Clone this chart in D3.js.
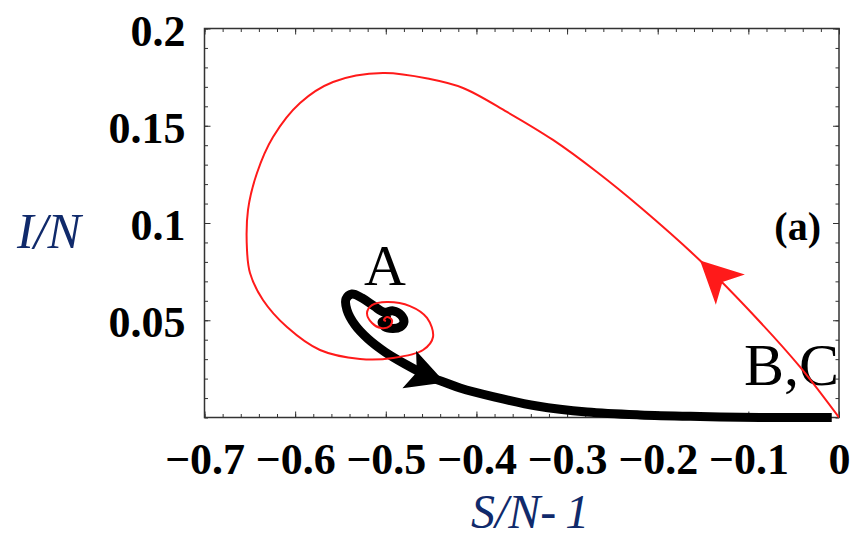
<!DOCTYPE html>
<html>
<head>
<meta charset="utf-8">
<script src="https://cdn.jsdelivr.net/npm/d3@7"></script>
<style>
  body { margin: 0; background: #fff; }
  svg { display: block; font-family: "Liberation Serif", "Times New Roman", serif; }
</style>
</head>
<body>
<div id="graph"></div>
<script>
// tick labels
const xTicks = [-0.7, -0.6, -0.5, -0.4, -0.3, -0.2, -0.1, 0];
const yTicks = [0.05, 0.1, 0.15, 0.2];

// red trajectory, from B,C up and round into A
const redX = [0, -0.0430, -0.0871, -0.1533, -0.2195, -0.2670, -0.3155,
  -0.3663, -0.4148, -0.4512, -0.5031, -0.5582, -0.5946, -0.6244, -0.6421, -0.6520, -0.6531,
  -0.6498, -0.6355, -0.6090, -0.5726, -0.5284, -0.4920, -0.4589, -0.4479, -0.4545, -0.4733,
  -0.4987, -0.5152, -0.5207, -0.5152, -0.5053, -0.4954, -0.4932, -0.4987, -0.5020, -0.4998];
const redY = [0, 0.0260, 0.0491, 0.0807, 0.1082, 0.1262, 0.1427,
  0.1571, 0.1694, 0.1740, 0.1771, 0.1725, 0.1617, 0.1442, 0.1257, 0.1067, 0.0861,
  0.0743, 0.0604, 0.0465, 0.0347, 0.0301, 0.0306, 0.0347, 0.0414, 0.0512, 0.0573,
  0.0594, 0.0578, 0.0537, 0.0486, 0.0460, 0.0470, 0.0501, 0.0517, 0.0501, 0.0496];

// black trajectory, from A out to B,C
const blackX = [-0.4940, -0.5040, -0.5010, -0.4920, -0.4840, -0.4800, -0.4832, -0.4920, -0.5020, -0.5130, -0.5262, -0.5373, -0.5439,
  -0.5428, -0.5340, -0.5196, -0.5009, -0.4788, -0.4512, -0.4347, -0.4181, -0.3795, -0.3332,
  -0.2780, -0.2195, -0.1533, -0.0872, -0.0080];
const blackY = [0.0505, 0.0492, 0.0466, 0.0458, 0.0466, 0.0490, 0.0527, 0.0548, 0.0542, 0.0573, 0.0614, 0.0635, 0.0609,
  0.0553, 0.0476, 0.0404, 0.0337, 0.0275, 0.0208, 0.0180, 0.0152, 0.0105, 0.0059,
  0.0028, 0.0013, 0.0005, 0, 0];

const redArrowAt = 3, blackArrowAt = 19;

const width = 859, height = 538;
const pLeft = 204.5, pRight = 839, pTop = 28.5, pBottom = 417.5;
const navy = "#102a6b";

const x = d3.scaleLinear().domain([-0.7, 0]).range([pLeft, pRight]);
const y = d3.scaleLinear().domain([0, 0.2]).range([pBottom, pTop]);

const svg = d3.select("#graph").append("svg").attr("width", width).attr("height", height);
svg.append("rect").attr("width", width).attr("height", height).attr("fill", "#fff");

const xMinor = d3.range(-0.7, 0.001, 0.02);
const yMinor = d3.range(0, 0.2001, 0.01);
const xFmt = d => d === 0 ? "0" : d3.format(".1f")(d);

function styleAxis(g) {
  g.select(".domain").remove();
  g.selectAll(".tick line").attr("stroke", "#333").attr("stroke-width", 1);
}

// minor ticks on all four sides
svg.append("g").attr("transform", `translate(0,${pBottom})`)
  .call(d3.axisBottom(x).tickValues(xMinor).tickSize(-3.5).tickFormat("")).call(styleAxis);
svg.append("g").attr("transform", `translate(0,${pTop})`)
  .call(d3.axisTop(x).tickValues(xMinor).tickSize(-3.5).tickFormat("")).call(styleAxis);
svg.append("g").attr("transform", `translate(${pLeft},0)`)
  .call(d3.axisLeft(y).tickValues(yMinor).tickSize(-3.5).tickFormat("")).call(styleAxis);
svg.append("g").attr("transform", `translate(${pRight},0)`)
  .call(d3.axisRight(y).tickValues(yMinor).tickSize(-3.5).tickFormat("")).call(styleAxis);

// major ticks
const xAxis = svg.append("g").attr("transform", `translate(0,${pBottom})`)
  .call(d3.axisBottom(x).tickValues(xTicks).tickSize(-6).tickPadding(25).tickFormat(xFmt)).call(styleAxis);
svg.append("g").attr("transform", `translate(0,${pTop})`)
  .call(d3.axisTop(x).tickValues(xTicks).tickSize(-6).tickFormat("")).call(styleAxis);
const yAxis = svg.append("g").attr("transform", `translate(${pLeft},0)`)
  .call(d3.axisLeft(y).tickValues(yTicks).tickSize(-6).tickPadding(19).tickFormat(d => String(d))).call(styleAxis);
svg.append("g").attr("transform", `translate(${pRight},0)`)
  .call(d3.axisRight(y).tickValues(yTicks).tickSize(-6).tickFormat("")).call(styleAxis);

[xAxis, yAxis].forEach(g => g.selectAll("text")
  .attr("font-family", "'Liberation Serif', 'Times New Roman', serif")
  .attr("font-size", 44).attr("font-weight", "bold").attr("fill", "#000"));
yAxis.selectAll("text").attr("dy", "0.38em");

// frame
svg.append("rect").attr("x", pLeft).attr("y", pTop)
  .attr("width", pRight - pLeft).attr("height", pBottom - pTop)
  .attr("fill", "none").attr("stroke", "#333").attr("stroke-width", 1.5);

// axis titles
svg.append("text").attr("x", 17).attr("y", 248)
  .attr("font-size", 50).attr("font-style", "italic").attr("fill", navy).text("I/N");
const xt = svg.append("text").attr("x", 471).attr("y", 528)
  .attr("font-size", 48).attr("font-style", "italic").attr("fill", navy);
xt.append("tspan").text("S/N-");
xt.append("tspan").attr("dx", 9).text("1");

// plot contents, clipped to the frame
svg.append("clipPath").attr("id", "plot").append("rect")
  .attr("x", pLeft).attr("y", pTop).attr("width", pRight - pLeft).attr("height", pBottom - pTop + 6);
const plot = svg.append("g").attr("clip-path", "url(#plot)");

plot.append("text").attr("x", 821).attr("y", 240).attr("text-anchor", "end")
  .attr("font-size", 40).attr("font-weight", "bold").text("(a)");
plot.append("text").attr("x", 385).attr("y", 285).attr("text-anchor", "middle")
  .attr("font-size", 58).text("A");
plot.append("text").attr("x", 744).attr("y", 385)
  .attr("font-size", 60).text("B,C");

const line = d3.line().x(d => x(d[0])).y(d => y(d[1])).curve(d3.curveCatmullRom.alpha(0.5));

plot.append("path").datum(d3.zip(blackX, blackY)).attr("d", line)
  .attr("fill", "none").attr("stroke", "#000").attr("stroke-width", 9).attr("stroke-linejoin", "round");
plot.append("path").datum(d3.zip(redX, redY)).attr("d", line)
  .attr("fill", "none").attr("stroke", "#ff1a1a").attr("stroke-width", 2).attr("stroke-linejoin", "round");

function arrowHead(xs, ys, i, len, half, notch, color) {
  const px = x(xs[i]), py = y(ys[i]);
  const dx = x(xs[i + 1]) - x(xs[i - 1]), dy = y(ys[i + 1]) - y(ys[i - 1]);
  const ang = Math.atan2(dy, dx) * 180 / Math.PI;
  plot.append("path")
    .attr("d", `M0,0 L${-len},${-half} L${-notch},0 L${-len},${half} Z`)
    .attr("transform", `translate(${px},${py}) rotate(${ang})`)
    .attr("fill", color);
}
arrowHead(redX, redY, redArrowAt, 42, 21, 31, "#ff1a1a");
arrowHead(blackX, blackY, blackArrowAt, 38, 20, 30, "#000");
</script>
</body>
</html>
